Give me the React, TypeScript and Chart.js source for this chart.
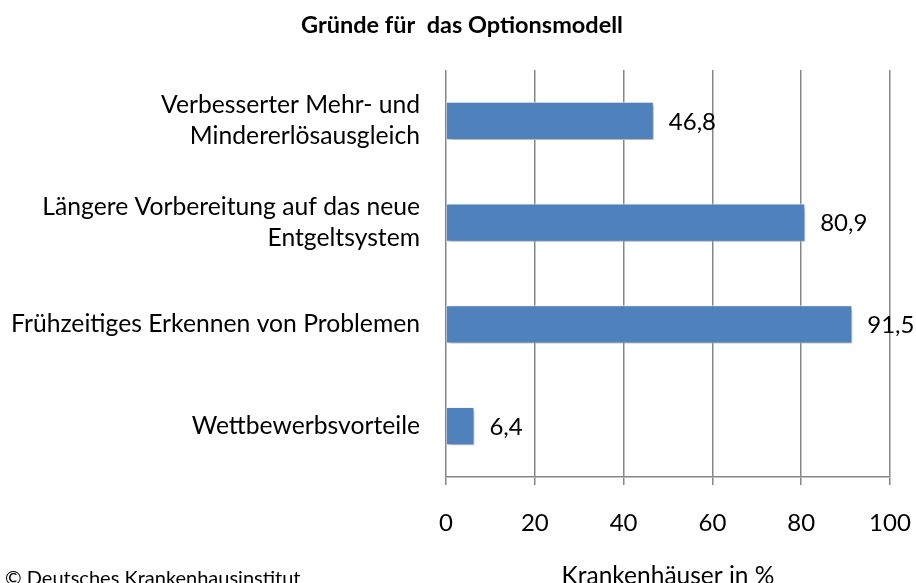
import React, { useEffect, useRef } from "react";
import { Chart, registerables } from "chart.js";

Chart.register(...registerables);

const categories: string[][] = [
  ["Verbesserter Mehr- und", "Mindererlösausgleich"],
  ["Längere Vorbereitung auf das neue", "Entgeltsystem"],
  ["Frühzeitiges Erkennen von Problemen"],
  ["Wettbewerbsvorteile"],
];
const values: number[] = [46.8, 80.9, 91.5, 6.4];
const valueLabels: string[] = ["46,8", "80,9", "91,5", "6,4"];
const xTicks: number[] = [0, 20, 40, 60, 80, 100];
const titleText = "Gründe für  das Optionsmodell";
const axisTitle = "Krankenhäuser in %";
const copyright = "© Deutsches Krankenhausinstitut";

const FONT = "Lato, 'Open Sans', sans-serif";

export default function App() {
  const ref = useRef<HTMLCanvasElement | null>(null);
  useEffect(() => {
    document.body.style.margin = "0";
    const canvas = ref.current!;
    const extras = {
      id: "extras",
      beforeDatasetsDraw(chart: any) {
        const ctx = chart.ctx;
        ctx.save();
        ctx.shadowColor = "rgba(0,0,0,0.35)";
        ctx.shadowBlur = 4;
        ctx.shadowOffsetX = 2;
        ctx.shadowOffsetY = 2;
      },
      afterDatasetsDraw(chart: any) {
        const ctx = chart.ctx;
        ctx.restore();
        const meta = chart.getDatasetMeta(0);
        ctx.save();
        ctx.fillStyle = "#000";
        ctx.font = `24px ${FONT}`;
        ctx.textAlign = "left";
        ctx.textBaseline = "middle";
        meta.data.forEach((bar: any, i: number) => {
          ctx.fillText(valueLabels[i], bar.x + 15, bar.y + 1);
        });
        ctx.restore();
      },
      afterDraw(chart: any) {
        const ctx = chart.ctx;
        const area = chart.chartArea;
        ctx.save();
        ctx.fillStyle = "#000";
        ctx.textBaseline = "middle";
        ctx.textAlign = "center";
        ctx.font = `bold 23.5px ${FONT}`;
        ctx.fillText(titleText, 462, 25);
        ctx.font = `24.5px ${FONT}`;
        ctx.fillText(axisTitle, (area.left + area.right) / 2, 576);
        ctx.textAlign = "left";
        ctx.font = `20px ${FONT}`;
        ctx.fillText(copyright, 5, 579);
        ctx.restore();
      },
    };
    const chart = new Chart(canvas, {
      type: "bar",
      data: {
        labels: categories,
        datasets: [
          {
            data: values,
            backgroundColor: "#4F81BD",
            borderColor: "#ffffff",
            borderWidth: 1,
            barPercentage: 0.75,
            categoryPercentage: 0.5,
          },
        ],
      },
      options: {
        indexAxis: "y",
        animation: false,
        responsive: false,
        maintainAspectRatio: false,
        layout: { padding: { top: 70, right: 26, left: 0, bottom: 0 } },
        plugins: {
          legend: { display: false },
          title: { display: false },
          tooltip: { enabled: false },
        },
        scales: {
          x: {
            min: 0,
            max: 100,
            afterBuildTicks(scale: any) {
              scale.ticks = xTicks.map((v) => ({ value: v }));
            },
            afterFit(scale: any) {
              scale.height = 106;
              scale.paddingRight = 0;
              scale.paddingLeft = 0;
            },
            grid: {
              color: "#868686",
              lineWidth: 1.5,
              tickLength: 8,
              drawTicks: true,
            },
            border: { display: true, color: "#868686", width: 1.5 },
            ticks: {
              color: "#000",
              padding: 24,
              font: { family: FONT, size: 24 },
            },
          },
          y: {
            afterFit(scale: any) {
              scale.width = 446;
              scale.paddingTop = 0;
              scale.paddingBottom = 0;
            },
            grid: { display: false, drawTicks: false },
            border: { display: false },
            ticks: {
              color: "#000",
              padding: 26,
              font: { family: FONT, size: 24.7, lineHeight: 1.25 },
            },
          },
        },
      },
      plugins: [extras],
    });
    return () => chart.destroy();
  }, []);
  return (
    <div style={{ position: "absolute", left: 0, top: 0, width: 916, height: 583, background: "#fff" }}>
      <canvas ref={ref} width={916} height={583} style={{ width: 916, height: 583, display: "block" }} />
    </div>
  );
}
